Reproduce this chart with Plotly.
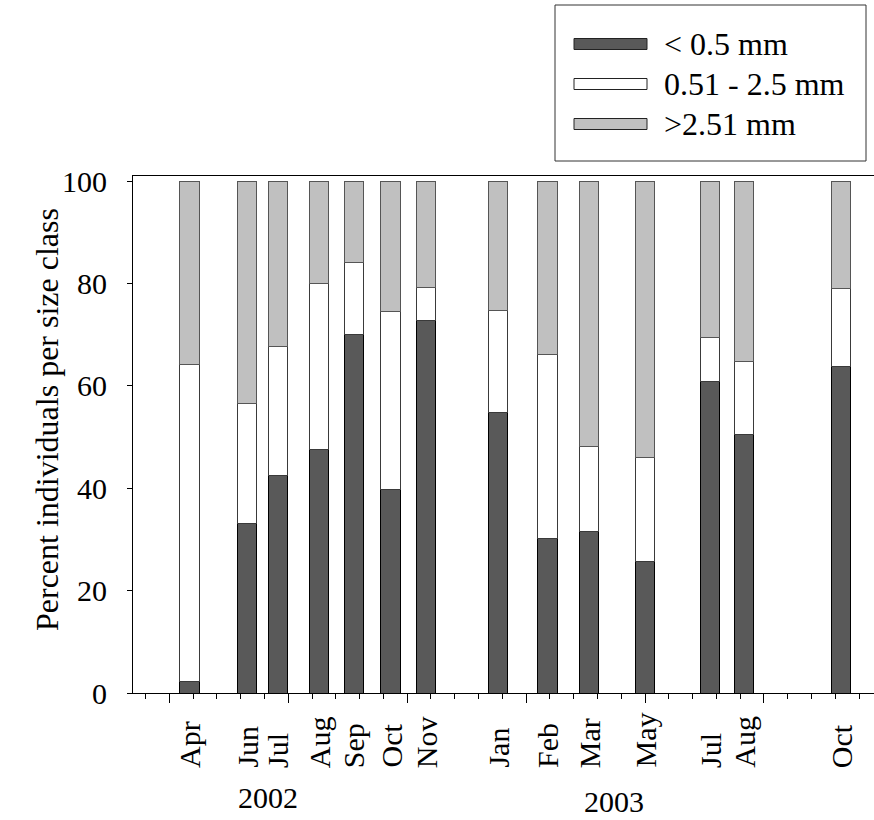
import plotly.graph_objects as go

# ---------------- data ----------------
months = ["Apr", "Jun", "Jul", "Aug", "Sep", "Oct", "Nov",
          "Jan", "Feb", "Mar", "May", "Jul", "Aug", "Oct"]
# sampling day (days since 1 Jan 2002)
sample_day = [117, 165, 191, 226, 255, 286, 316, 376, 418, 453, 500, 555, 583, 665]
pct_small = [2.2, 33.2, 42.4, 47.5, 70.1, 39.7, 72.8, 54.8, 30.1, 31.6, 25.6, 60.8, 50.5, 63.8]
pct_medium = [62.0, 23.3, 25.3, 32.5, 14.1, 34.9, 6.5, 19.9, 36.1, 16.6, 20.5, 8.7, 14.2, 15.2]
pct_large = [35.8, 43.5, 32.3, 20.0, 15.8, 25.4, 20.7, 25.3, 33.8, 51.8, 53.9, 30.5, 35.3, 21.0]
series_names = ["< 0.5 mm", "0.51 - 2.5 mm", ">2.51 mm"]
series_colors = ["#595959", "#ffffff", "#c0c0c0"]
series_lines = ["#000000", "#3a3a3a", "#555555"]
years = ["2002", "2003"]
year_day = [183, 474]
y_ticks = [0, 20, 40, 60, 80, 100]

FONT = "Times New Roman, Liberation Serif, DejaVu Serif, serif"
W, H = 874, 820
ML, MR, MT, MB = 133, 0, 176, 127
PW, PH = W - ML - MR, H - MT - MB


def px_x(p):
    return (p - ML) / PW


def px_y(p):
    return (H - MB - p) / PH


fig = go.Figure()
for vals, name, col, lc in zip([pct_small, pct_medium, pct_large],
                               series_names, series_colors, series_lines):
    fig.add_trace(go.Bar(
        x=sample_day, y=vals, name=name, width=16,
        marker=dict(color=col, line=dict(color=lc, width=1)),
        showlegend=False,
    ))

annotations = []
# month labels
for d, m in zip(sample_day, months):
    annotations.append(dict(
        x=d, xref="x", y=px_y(770), yref="paper", text=m, textangle=-90,
        showarrow=False, xanchor="center", yanchor="bottom",
        font=dict(family=FONT, size=30, color="black")))
# year labels
for d, yv, py in zip(year_day, years, [797, 801]):
    annotations.append(dict(
        x=d, xref="x", y=px_y(py), yref="paper", text=yv,
        showarrow=False, xanchor="center", yanchor="middle",
        font=dict(family=FONT, size=30, color="black")))
# y-axis title
annotations.append(dict(
    x=px_x(47), xref="paper", y=px_y(420), yref="paper",
    text="Percent individuals per size class", textangle=-90,
    showarrow=False, xanchor="center", yanchor="middle",
    font=dict(family=FONT, size=32, color="black")))

shapes = []
# legend box
shapes.append(dict(type="rect", xref="paper", yref="paper",
                   x0=px_x(555), x1=px_x(866), y0=px_y(161), y1=px_y(5),
                   line=dict(color="#333333", width=1), fillcolor="white"))
row_y = [44, 84, 124]
for ry, name, col in zip(row_y, series_names, series_colors):
    shapes.append(dict(type="rect", xref="paper", yref="paper",
                       x0=px_x(574), x1=px_x(647), y0=px_y(ry + 5.5), y1=px_y(ry - 5.5),
                       line=dict(color="#222222", width=1), fillcolor=col))
    annotations.append(dict(
        x=px_x(662), xref="paper", y=px_y(ry), yref="paper", text=name,
        showarrow=False, xanchor="left", yanchor="middle",
        font=dict(family=FONT, size=32, color="black")))

fig.update_layout(
    width=W, height=H, autosize=False,
    margin=dict(l=ML, r=MR, t=MT, b=MB, pad=0),
    barmode="stack",
    plot_bgcolor="white", paper_bgcolor="white",
    font=dict(family=FONT, size=30, color="black"),
    annotations=annotations, shapes=shapes,
    xaxis=dict(
        range=[69.5, 692.5], showgrid=False, zeroline=False,
        showline=True, linecolor="black", linewidth=1, mirror=True,
        tickmode="linear", tick0=0, dtick=100,
        ticks="outside", ticklen=9, tickcolor="black", tickwidth=1,
        showticklabels=False,
        minor=dict(tickmode="linear", tick0=0, dtick=20, ticks="outside",
                   ticklen=5, tickcolor="black", tickwidth=1, showgrid=False),
    ),
    yaxis=dict(
        range=[0, 101], showgrid=False, zeroline=False,
        showline=True, linecolor="black", linewidth=1,
        tickmode="array", tickvals=y_ticks,
        ticks="outside", ticklen=5, tickcolor="black", tickwidth=1,
        tickfont=dict(family=FONT, size=30, color="black"),
        ticklabelstandoff=14,
    ),
)

fig.write_html("out.html", config={"displayModeBar": False},
               post_script="document.body.style.margin='0px';")
